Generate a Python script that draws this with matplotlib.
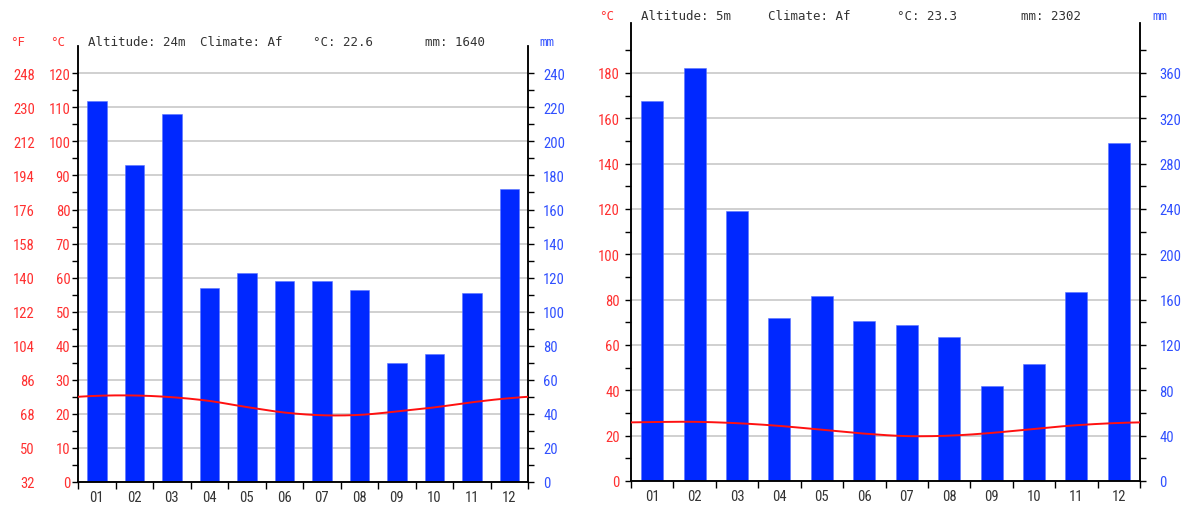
import numpy as np
import matplotlib
matplotlib.use("Agg")
import matplotlib.pyplot as plt
from matplotlib.ticker import FixedLocator, NullFormatter

# ---- data -------------------------------------------------------------
months = ["01", "02", "03", "04", "05", "06", "07", "08", "09", "10", "11", "12"]

left_altitude = "24m"
left_climate = "Af"
left_temp = [25.3, 25.4, 24.9, 23.8, 22.0, 20.4, 19.6, 19.7, 20.7, 21.9, 23.4, 24.6]
left_precip = [224, 186, 216, 114, 123, 118, 118, 113, 70, 75, 111, 172]

right_altitude = "5m"
right_climate = "Af"
right_temp = [26.0, 26.1, 25.5, 24.3, 22.6, 20.9, 19.8, 20.0, 21.2, 23.0, 24.6, 25.6]
right_precip = [335, 364, 238, 144, 163, 141, 138, 127, 84, 103, 167, 298]

# ---- style ------------------------------------------------------------
W, H = 1182, 506
NARROW = ["Roboto Condensed", "DejaVu Sans"]
MONO = ["DejaVu Sans Mono"]
RED = "#ff3030"
BLUE = "#3050ff"
BAR = "#0028ff"
GRID = "#c8c8c8"
TXT = "#333333"

plt.rcParams["font.family"] = NARROW
plt.rcParams["font.size"] = 10.5

fig = plt.figure(figsize=(W / 100, H / 100), dpi=100)


def px_rect(x0, x1, ytop, ybot):
    return [x0 / W, (H - ybot) / H, (x1 - x0) / W, (ybot - ytop) / H]


def fig_xy(x, y):
    return x / W, (H - y) / H


def catmull_rom_periodic(vals, step=0.02):
    """Smooth closed curve through monthly values, spanning the full year."""
    v = np.asarray(vals, float)
    n = len(v)
    ext = np.concatenate([v[-2:], v, v[:2]])      # x = -1 .. n+2
    xs_all, ys_all = [], []
    for i in range(1, n + 2):                     # segment x = i-1 .. i
        p0, p1, p2, p3 = ext[i - 1], ext[i], ext[i + 1], ext[i + 2]
        t = np.arange(0, 1, step)
        y = 0.5 * (2 * p1 + (-p0 + p2) * t
                   + (2 * p0 - 5 * p1 + 4 * p2 - p3) * t ** 2
                   + (-p0 + 3 * p1 - 3 * p2 + p3) * t ** 3)
        xs_all.append(i - 1 + t)
        ys_all.append(y)
    xs = np.concatenate(xs_all)
    ys = np.concatenate(ys_all)
    keep = (xs >= 0.5) & (xs <= 12.5)
    return xs[keep], ys[keep]


def climate_panel(rect, temp, precip, t_top, t_major, t_minor,
                  lpad, rpad, bar_w):
    x = np.arange(1, len(months) + 1)

    ax = fig.add_axes(rect)                      # precipitation (mm)
    axt = ax.twinx()                             # temperature (°C)

    ax.set_xlim(0.5, 12.5)
    ax.set_ylim(0, 2 * t_top)
    axt.set_ylim(0, t_top)

    ax.bar(x, precip, width=bar_w, color=BAR, edgecolor="#5a74ff",
           linewidth=0.4, zorder=2)
    ax.set_axisbelow(True)

    # mm scale on the right
    ax.yaxis.tick_right()
    ax.yaxis.set_major_locator(FixedLocator(2 * np.asarray(t_major)))
    ax.yaxis.set_minor_locator(FixedLocator(2 * np.asarray(t_minor)))
    ax.grid(axis="y", which="major", color=GRID, linewidth=1.2, zorder=0)
    ax.tick_params(axis="y", which="both", direction="out", length=4,
                   width=1, colors="black", labelcolor=BLUE, pad=rpad)

    # month axis
    ax.xaxis.set_major_locator(FixedLocator(np.arange(0.5, 12.6, 1.0)))
    ax.xaxis.set_major_formatter(NullFormatter())
    ax.xaxis.set_minor_locator(FixedLocator(x))
    ax.set_xticklabels(months, minor=True)
    ax.tick_params(axis="x", which="major", direction="out", length=5, width=1)
    ax.tick_params(axis="x", which="minor", length=0, pad=6, labelcolor=TXT)

    # °C scale on the left
    axt.yaxis.tick_left()
    axt.yaxis.set_major_locator(FixedLocator(t_major))
    axt.yaxis.set_minor_locator(FixedLocator(t_minor))
    axt.tick_params(axis="y", which="both", direction="out", length=4,
                    width=1, colors="black", labelcolor=RED, pad=lpad)
    axt.plot(*catmull_rom_periodic(temp), color="#ff1010", linewidth=1.4,
             zorder=3)

    for a in (ax, axt):
        a.spines["top"].set_visible(False)
        for s in ("left", "right", "bottom"):
            a.spines[s].set_linewidth(1.1)
    return ax, axt


def header(x_positions, y, altitude, climate, temp, precip):
    pieces = [f"Altitude: {altitude}", f"Climate: {climate}",
              f"°C: {np.mean(temp):.1f}", f"mm: {int(round(sum(precip)))}"]
    for xp, s in zip(x_positions, pieces):
        fig.text(*fig_xy(xp, y), s, ha="left", va="center", color=TXT,
                 family=MONO, fontsize=9)


def unit_label(x, y, s, color):
    fig.text(*fig_xy(x, y), s, ha="center", va="center", color=color,
             family=MONO, fontsize=9)


# ---- left panel -------------------------------------------------------
rect_l = px_rect(78, 528, 47, 483)
axl, axl_t = climate_panel(rect_l, left_temp, left_precip, t_top=128,
                           t_major=np.arange(0, 121, 10),
                           t_minor=np.arange(5, 116, 10),
                           lpad=1.5, rpad=7, bar_w=0.52)

# Fahrenheit scale beside the Celsius one
sec = axl_t.secondary_yaxis((35 - 78) / (528 - 78),
                            functions=(lambda c: c * 1.8 + 32,
                                       lambda f: (f - 32) / 1.8))
sec.set_yticks(np.arange(32, 249, 18))
sec.tick_params(length=0, labelcolor=RED, pad=0)
for s in sec.spines.values():
    s.set_visible(False)

header([88, 200, 313, 425], 42, left_altitude, left_climate,
       left_temp, left_precip)
unit_label(18, 42, "°F", RED)
unit_label(58, 42, "°C", RED)
unit_label(547, 42, "mm", BLUE)

# ---- right panel ------------------------------------------------------
rect_r = px_rect(631, 1140, 24, 482)
axr, axr_t = climate_panel(rect_r, right_temp, right_precip, t_top=202,
                           t_major=np.arange(0, 181, 20),
                           t_minor=np.arange(10, 191, 20),
                           lpad=4, rpad=10, bar_w=0.52)

header([641, 768, 897, 1021], 17, right_altitude, right_climate,
       right_temp, right_precip)
unit_label(607, 17, "°C", RED)
unit_label(1160, 17, "mm", BLUE)

fig.savefig("out.png", dpi=100, facecolor="white")
